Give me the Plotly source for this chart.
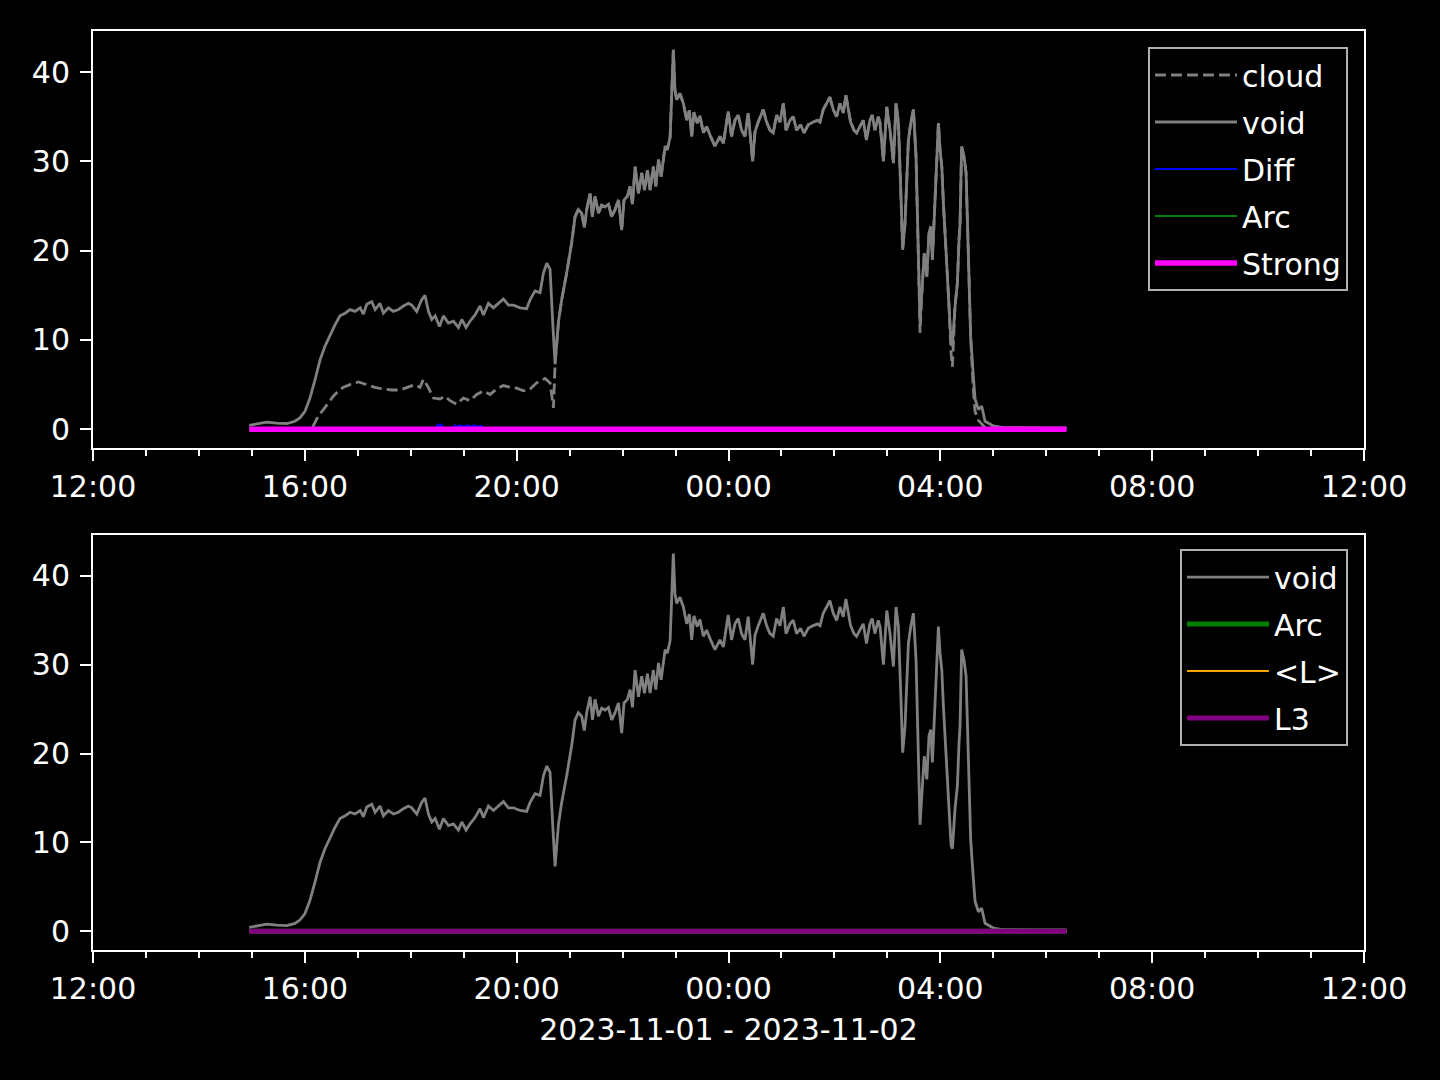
import plotly.graph_objects as go

# ---------------- data ----------------
void_time = [
    "14:57:00", "15:05:30", "15:16:50", "15:28:00", "15:39:30", "15:48:50", "15:54:40", "16:00:10",
    "16:05:50", "16:11:40", "16:17:20", "16:22:50", "16:28:40", "16:34:10", "16:39:50", "16:45:40",
    "16:51:10", "16:56:50", "17:02:40", "17:06:20", "17:10:10", "17:15:50", "17:19:40", "17:25:10",
    "17:29:00", "17:34:40", "17:40:20", "17:46:00", "17:51:40", "17:57:20", "18:01:10", "18:06:50",
    "18:12:20", "18:16:10", "18:20:00", "18:23:50", "18:27:40", "18:32:30", "18:37:00", "18:42:40",
    "18:48:20", "18:54:00", "18:57:50", "19:02:40", "19:07:10", "19:12:50", "19:18:30", "19:22:20",
    "19:28:00", "19:33:40", "19:39:20", "19:45:00", "19:50:40", "19:56:20", "20:03:50", "20:11:20",
    "20:15:10", "20:20:50", "20:26:30", "20:30:20", "20:34:10", "20:37:50", "20:40:50", "20:43:30",
    "20:47:20", "20:51:00", "20:56:40", "21:02:20", "21:06:10", "21:09:50", "21:13:40", "21:16:40",
    "21:19:20", "21:23:10", "21:25:50", "21:28:50", "21:32:40", "21:36:20", "21:40:10", "21:44:00",
    "21:47:40", "21:51:30", "21:55:20", "21:59:00", "22:01:40", "22:05:30", "22:08:30", "22:11:10",
    "22:14:10", "22:18:00", "22:21:40", "22:24:50", "22:28:10", "22:31:10", "22:34:50", "22:37:40",
    "22:40:40", "22:43:40", "22:48:10", "22:50:40", "22:53:50", "22:57:30", "22:59:20", "23:01:20",
    "23:05:00", "23:08:50", "23:12:40", "23:15:40", "23:18:20", "23:20:50", "23:24:40", "23:27:40",
    "23:31:30", "23:35:10", "23:39:40", "23:44:40", "23:50:20", "23:54:10", "23:59:40", "00:03:30",
    "00:07:20", "00:11:00", "00:14:50", "00:18:40", "00:22:20", "00:27:20", "00:30:00", "00:33:40",
    "00:39:20", "00:43:10", "00:47:00", "00:50:40", "00:54:30", "00:58:20", "01:02:10", "01:05:10",
    "01:09:40", "01:13:20", "01:17:10", "01:21:40", "01:25:30", "01:30:20", "01:36:00", "01:40:40",
    "01:43:40", "01:47:20", "01:51:10", "01:54:50", "01:58:40", "02:02:30", "02:06:20", "02:10:00",
    "02:13:00", "02:15:40", "02:18:20", "02:22:10", "02:25:10", "02:28:50", "02:32:40", "02:36:20",
    "02:40:10", "02:42:50", "02:45:50", "02:49:40", "02:51:40", "02:55:30", "02:59:20", "03:03:00",
    "03:06:50", "03:09:50", "03:12:30", "03:15:10", "03:17:20", "03:20:00", "03:23:50", "03:26:30",
    "03:29:30", "03:32:30", "03:34:20", "03:37:00", "03:39:40", "03:41:50", "03:44:40", "03:47:10",
    "03:49:10", "03:51:00", "03:52:50", "03:55:10", "03:57:50", "03:59:40", "04:01:40", "04:03:30",
    "04:07:10", "04:09:50", "04:12:10", "04:13:40", "04:16:40", "04:19:20", "04:21:10", "04:22:20",
    "04:24:10", "04:26:50", "04:29:10", "04:30:40", "04:32:50", "04:34:20", "04:37:20", "04:39:20",
    "04:43:10", "04:46:50", "04:50:40", "05:00:10", "05:10:00", "05:30:00", "06:00:00", "06:23:00",
]
void_vals = [
    0.45, 0.6, 0.8, 0.7, 0.65, 0.9, 1.3, 2.0,
    3.5, 5.6, 7.8, 9.3, 10.6, 11.7, 12.7, 13.0,
    13.4, 13.2, 13.6, 12.9, 14.0, 14.3, 13.4, 14.1,
    13.0, 13.6, 13.2, 13.4, 13.8, 14.1, 13.9, 13.2,
    14.5, 15.0, 13.2, 12.3, 12.7, 11.5, 12.7, 11.9,
    12.1, 11.4, 12.3, 11.4, 12.1, 12.8, 13.8, 12.8,
    14.1, 13.6, 14.1, 14.6, 13.9, 13.9, 13.6, 13.5,
    14.5, 15.5, 15.3, 17.5, 18.6, 17.9, 12.0, 7.3,
    12.0, 14.5, 17.5, 20.9, 23.8, 24.6, 24.2, 22.6,
    24.6, 26.4, 23.8, 26.1, 24.2, 25.1, 24.9, 25.2,
    23.8, 24.6, 25.7, 22.3, 25.7, 26.1, 27.2, 25.2,
    29.4, 26.4, 28.7, 26.8, 29.0, 26.8, 29.4, 27.2,
    30.2, 28.3, 31.7, 31.3, 32.7, 42.5, 38.0, 36.9,
    37.6, 36.5, 34.6, 35.7, 32.8, 35.5, 34.3, 35.1,
    33.2, 33.9, 32.8, 31.7, 32.8, 32.0, 35.6, 32.8,
    34.6, 35.2, 33.5, 32.8, 35.4, 30.0, 33.3, 34.4,
    35.8, 34.4, 33.5, 33.2, 35.2, 34.4, 36.5, 33.5,
    34.6, 35.0, 33.5, 34.1, 33.2, 34.1, 34.4, 34.6,
    34.4, 35.8, 36.5, 37.2, 35.8, 35.0, 36.5, 35.4,
    37.4, 35.8, 34.4, 33.5, 33.2, 33.9, 34.6, 32.4,
    34.6, 35.2, 33.5, 35.0, 34.3, 30.0, 36.1, 33.5,
    29.8, 36.5, 34.3, 26.8, 20.1, 23.1, 32.4, 34.3,
    35.8, 30.5, 21.2, 12.0, 16.4, 19.7, 17.1, 22.0,
    22.7, 19.0, 23.1, 29.4, 34.3, 31.3, 29.4, 25.3,
    19.4, 13.8, 9.7, 9.3, 13.8, 16.4, 21.2, 23.1,
    31.7, 30.5, 28.7, 23.1, 15.6, 10.4, 6.0, 3.4,
    2.2, 2.6, 0.9, 0.37, 0.2, 0.15, 0.15, 0.15,
]

# cloud: separate early part, then follows void (overlapping) with a few deviations
cloud_early_time = [
    "14:57:00", "16:05:00", "16:09:40", "16:15:20", "16:21:00", "16:26:40", "16:32:20", "16:38:00",
    "16:43:40", "16:51:10", "17:00:40", "17:10:10", "17:19:30", "17:29:00", "17:38:20", "17:47:50",
    "17:57:20", "18:04:50", "18:10:30", "18:14:20", "18:19:50", "18:25:40", "18:33:10", "18:38:50",
    "18:44:30", "18:52:10", "18:59:40", "19:07:10", "19:14:40", "19:22:20", "19:29:50", "19:37:20",
    "19:44:50", "19:52:30", "20:00:00", "20:07:40", "20:15:10", "20:22:40", "20:32:10", "20:37:50",
    "20:41:40",
]
cloud_early_vals = [
    0.0, 0.0, 0.4, 1.5, 2.2, 3.0, 3.7, 4.3,
    4.7, 5.0, 5.3, 5.0, 4.7, 4.5, 4.4, 4.4,
    4.7, 5.0, 4.7, 5.6, 4.7, 3.5, 3.4, 3.7,
    3.2, 2.8, 3.5, 3.2, 3.9, 4.3, 3.9, 4.5,
    4.9, 4.7, 4.6, 4.3, 4.5, 5.2, 5.7, 5.2,
    2.4,
]
cloud_join_time = "20:43:30"
cloud_dev_time = ["03:37:00", "04:12:10", "04:13:40", "04:37:20", "04:39:20", "04:43:10",
                  "04:46:50", "04:50:40", "05:00:10", "05:10:00", "05:30:00", "06:00:00", "06:23:00"]
cloud_dev_vals = [10.8, 8.5, 7.0, 4.5, 2.0, 1.0, 0.6, 0.2, 0.0, 0.0, 0.0, 0.0, 0.0]

diff_time = ["14:57:00", "18:28:00", "18:31:00", "18:33:00", "18:35:00", "18:37:00", "18:47:00",
             "18:50:00", "18:53:00", "18:56:00", "19:00:00", "19:04:00", "19:08:00", "19:12:00",
             "19:16:00", "19:20:00", "19:23:00", "06:23:00"]
diff_vals = [0, 0, 0.6, 0.25, 0.6, 0, 0, 0.45, 0.3, 0.45, 0.3, 0.45, 0.3, 0.45, 0.3, 0.4, 0, 0]

flat_time = ["14:57:00", "06:23:00"]
arc_vals = [0, 0]
strong_vals = [0, 0]
lavg_vals = [0, 0]
l3_vals = [0, 0]

y_ticks = [0, 10, 20, 30, 40]
x_label = "2023-11-01 - 2023-11-02"


def to_dt(s):
    h = int(s[:2])
    day = "2023-11-01" if h >= 12 else "2023-11-02"
    return f"{day} {s}"


def order_key(s):
    h = int(s[:2])
    return (0 if h >= 12 else 1, s)


void_x = [to_dt(t) for t in void_time]
dev = dict(zip(cloud_dev_time, cloud_dev_vals))
cloud_time = list(cloud_early_time)
cloud_vals = list(cloud_early_vals)
for t, v in zip(void_time, void_vals):
    if order_key(t) >= order_key(cloud_join_time):
        cloud_time.append(t)
        cloud_vals.append(dev.get(t, v))
cloud_x = [to_dt(t) for t in cloud_time]
diff_x = [to_dt(t) for t in diff_time]
flat_x = [to_dt(t) for t in flat_time]

fig = go.Figure()

# top panel
fig.add_trace(go.Scatter(x=cloud_x, y=cloud_vals, mode="lines", name="cloud",
                         line=dict(color="#808080", width=2.8, dash="11px,5px"),
                         xaxis="x", yaxis="y", legend="legend", legendgroup="a1"))
fig.add_trace(go.Scatter(x=void_x, y=void_vals, mode="lines", name="void",
                         line=dict(color="#808080", width=2.8),
                         xaxis="x", yaxis="y", legend="legend", legendgroup="a2"))
fig.add_trace(go.Scatter(x=diff_x, y=diff_vals, mode="lines", name="Diff",
                         line=dict(color="#0000ff", width=2),
                         xaxis="x", yaxis="y", legend="legend", legendgroup="a3"))
fig.add_trace(go.Scatter(x=flat_x, y=arc_vals, mode="lines", name="Arc",
                         line=dict(color="#008000", width=2),
                         xaxis="x", yaxis="y", legend="legend", legendgroup="a4"))
fig.add_trace(go.Scatter(x=flat_x, y=strong_vals, mode="lines", name="Strong",
                         line=dict(color="#ff00ff", width=5.5),
                         xaxis="x", yaxis="y", legend="legend", legendgroup="a5"))

# bottom panel
fig.add_trace(go.Scatter(x=void_x, y=void_vals, mode="lines", name="void",
                         line=dict(color="#808080", width=2.8),
                         xaxis="x2", yaxis="y2", legend="legend2", legendgroup="b1"))
fig.add_trace(go.Scatter(x=flat_x, y=arc_vals, mode="lines", name="Arc",
                         line=dict(color="#008000", width=5),
                         xaxis="x2", yaxis="y2", legend="legend2", legendgroup="b2"))
fig.add_trace(go.Scatter(x=flat_x, y=lavg_vals, mode="lines", name="<L>",
                         line=dict(color="#ffa500", width=2),
                         xaxis="x2", yaxis="y2", legend="legend2", legendgroup="b3"))
fig.add_trace(go.Scatter(x=flat_x, y=l3_vals, mode="lines", name="L3",
                         line=dict(color="#800080", width=5),
                         xaxis="x2", yaxis="y2", legend="legend2", legendgroup="b4"))

xrange = ["2023-11-01 12:00", "2023-11-02 12:00"]
xcommon = dict(type="date", range=xrange, tickformat="%H:%M", dtick=4 * 3600000,
               tick0="2023-11-01 00:00", ticks="outside", ticklen=11, tickwidth=2,
               tickcolor="white", showline=True, linecolor="white", linewidth=2,
               mirror=True, showgrid=False, zeroline=False,
               tickfont=dict(size=30, color="white"),
               minor=dict(dtick=3600000, ticks="outside", ticklen=6, tickwidth=1.5,
                          tickcolor="white", showgrid=False))
ycommon = dict(range=[-2.1, 44.6], tickvals=y_ticks, ticks="outside", ticklen=11,
               tickwidth=2, tickcolor="white", showline=True, linecolor="white",
               linewidth=2, mirror=True, showgrid=False, zeroline=False,
               ticklabelstandoff=4,
               tickfont=dict(size=30, color="white"))

legend_common = dict(xanchor="right", yanchor="top", bgcolor="black",
                     bordercolor="#b0b0b0", borderwidth=2,
                     font=dict(size=30, color="white"),
                     tracegroupgap=5, itemwidth=82)

fig.update_layout(
    width=1440, height=1080,
    paper_bgcolor="black", plot_bgcolor="black",
    margin=dict(l=93, r=76, t=31, b=130),
    font=dict(family="DejaVu Sans", size=30, color="white"),
    xaxis=dict(domain=[0, 1], anchor="y", **xcommon),
    yaxis=dict(domain=[0.5462, 1], anchor="x", **ycommon),
    xaxis2=dict(domain=[0, 1], anchor="y2", title=dict(text=x_label, standoff=14,
                font=dict(size=30, color="white")), **xcommon),
    yaxis2=dict(domain=[0, 0.4516], anchor="x2", **ycommon),
    legend=dict(x=0.9874, y=0.9826, **legend_common),
    legend2=dict(x=0.9874, y=0.4363, **legend_common),
    showlegend=True,
)

fig.write_html(
    "out.html",
    config={"displayModeBar": False},
    post_script="document.body.style.margin='0';document.body.style.background='black';"
                "window.dispatchEvent(new Event('resize'));",
)
